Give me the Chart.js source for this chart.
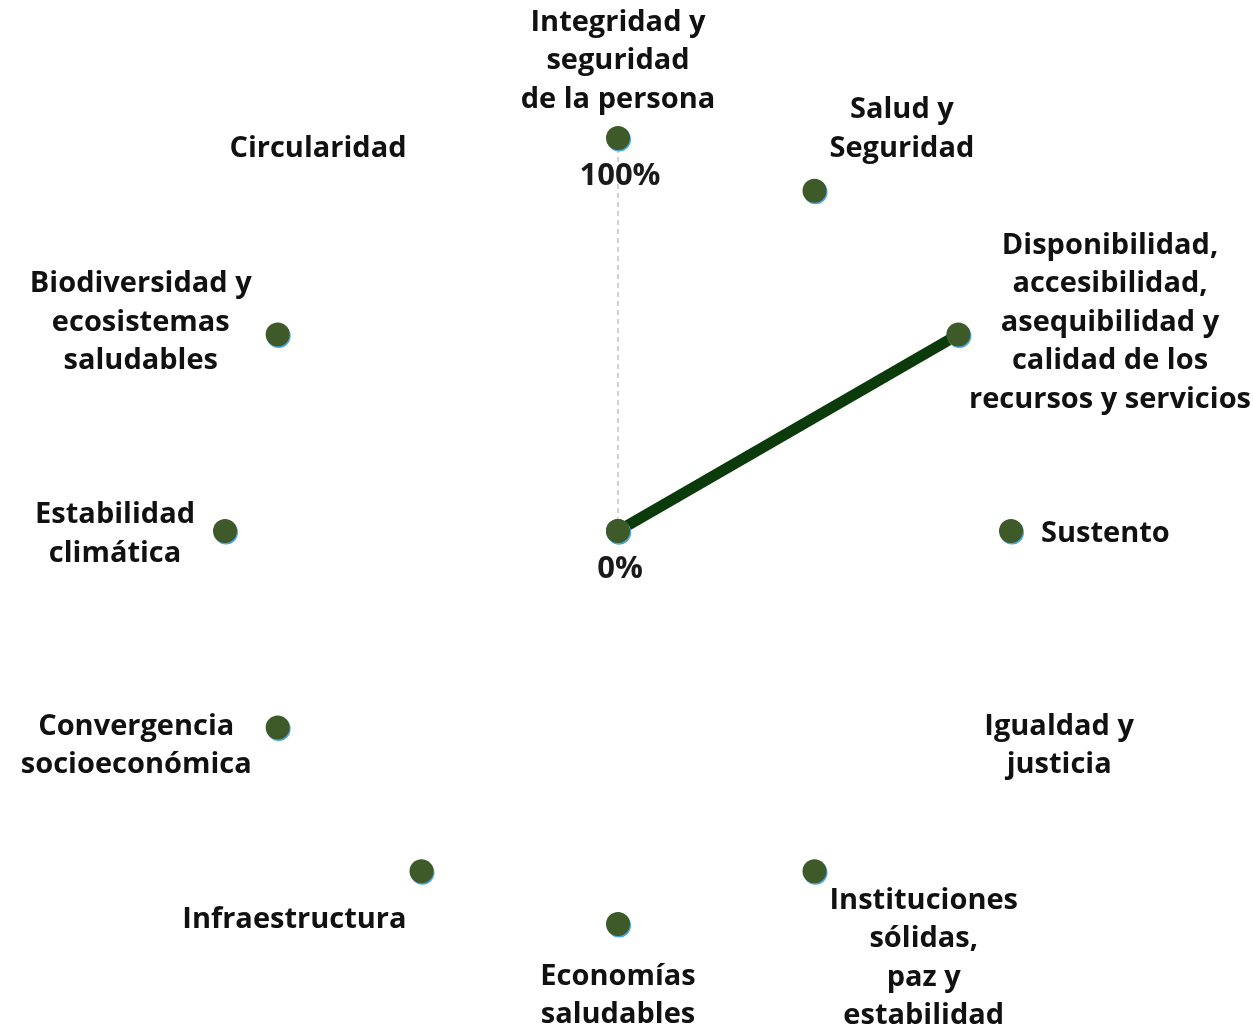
<!DOCTYPE html>
<html>
<head>
<meta charset="utf-8">
<script src="https://cdn.jsdelivr.net/npm/chart.js@4"></script>
<style>
  html, body { margin: 0; padding: 0; background: #ffffff; }
  #wrap { width: 1253px; height: 1032px; position: relative; }
</style>
</head>
<body>
<div id="wrap"><canvas id="c"></canvas></div>
<script>
// ---- data ----
const categories = [
  ['Integridad y', 'seguridad', 'de la persona'],
  ['Salud y', 'Seguridad'],
  ['Disponibilidad,', 'accesibilidad,', 'asequibilidad y', 'calidad de los', 'recursos y servicios'],
  ['Sustento'],
  ['Igualdad y', 'justicia'],
  ['Instituciones', 'sólidas,', 'paz y', 'estabilidad'],
  ['Economías', 'saludables'],
  ['Infraestructura'],
  ['Convergencia', 'socioeconómica'],
  ['Estabilidad', 'climática'],
  ['Biodiversidad y', 'ecosistemas', 'saludables'],
  ['Circularidad']
];
const pointValues = [100, 100, 100, 100, 0, 100, 100, 100, 100, 100, 100, 0];
const lineValues  = [null, null, 100, 0, null, null, null, null, null, null, null, null];
const tickValues  = [0, 100];
const tickLabels  = ['0%', '100%'];

// ---- styles ----
const FONT_FAMILY = '"Open Sans", "Noto Sans", sans-serif';
const FONT_SIZE = 29;
const TICK_FONT_SIZE = 31;
const LINE_H = 38.5;
const LABEL_PAD = 30;
const TEXT_SHIFT = 3;

const shadowPlugin = {
  id: 'pointShadow',
  beforeDatasetDraw(chart, args) {
    if (args.index === 0) {
      const ctx = chart.ctx;
      ctx.save();
      ctx.shadowColor = '#4ea3e6';
      ctx.shadowOffsetX = 1;
      ctx.shadowOffsetY = 1.5;
      ctx.shadowBlur = 0;
    }
  },
  afterDatasetDraw(chart, args) {
    if (args.index === 0) chart.ctx.restore();
  }
};

const labelPlugin = {
  id: 'blockLabels',
  afterDraw(chart) {
    const scale = chart.scales.r;
    const ctx = chart.ctx;
    ctx.save();
    ctx.font = 'bold ' + FONT_SIZE + 'px ' + FONT_FAMILY;
    ctx.fillStyle = '#111111';
    ctx.textAlign = 'center';
    ctx.textBaseline = 'middle';
    const n = categories.length;
    categories.forEach((lines, i) => {
      const w = Math.max(...lines.map(l => ctx.measureText(l).width));
      const h = lines.length * LINE_H;
      const p = scale.getPointPosition(i, scale.drawingArea + LABEL_PAD);
      const a = i * 2 * Math.PI / n;
      const s = Math.sin(a), c = Math.cos(a);
      let cx = p.x, cy = p.y;
      if (Math.abs(s) < 0.01) {
        cy = p.y - Math.sign(c) * h / 2;
      } else if (Math.abs(s) > 0.8) {
        cx = p.x + Math.sign(s) * w / 2;
      } else {
        cx = p.x + Math.sign(s) * w / 2;
        cy = p.y - Math.sign(c) * h / 2;
      }
      cx = Math.min(Math.max(cx, w / 2 + 2), chart.width - w / 2 - 2);
      cy = Math.min(Math.max(cy, h / 2), chart.height - h / 2);
      lines.forEach((l, k) => ctx.fillText(l, cx, cy - h / 2 + LINE_H * (k + 0.5) + TEXT_SHIFT));
    });
    // tick labels
    ctx.font = 'bold ' + TICK_FONT_SIZE + 'px ' + FONT_FAMILY;
    ctx.fillStyle = '#1a1a1a';
    tickValues.forEach((v, k) => {
      const p = scale.getPointPosition(0, scale.getDistanceFromCenterForValue(v));
      ctx.fillText(tickLabels[k], p.x + 2, p.y + 35 + TEXT_SHIFT);
    });
    ctx.restore();
  }
};

new Chart(document.getElementById('c'), {
  type: 'radar',
  data: {
    labels: categories,
    datasets: [
      {
        data: pointValues,
        showLine: false,
        pointRadius: 12,
        pointHoverRadius: 12,
        pointBackgroundColor: '#3d5a28',
        pointBorderWidth: 0,
        borderWidth: 0,
        backgroundColor: 'rgba(0,0,0,0)',
        order: 0
      },
      {
        data: lineValues,
        borderColor: '#0b3a0b',
        borderWidth: 11,
        pointRadius: 0,
        fill: false,
        spanGaps: false,
        backgroundColor: 'rgba(0,0,0,0)',
        order: 1
      }
    ]
  },
  options: {
    responsive: true,
    maintainAspectRatio: false,
    animation: false,
    layout: { padding: { left: 100, right: 117, top: 138, bottom: 108 } },
    plugins: { legend: { display: false }, tooltip: { enabled: false } },
    scales: {
      r: {
        min: 0,
        max: 100,
        ticks: { display: false, stepSize: 100 },
        grid: { display: false },
        pointLabels: { display: false },
        angleLines: {
          display: true,
          color: (ctx) => ctx.index === 0 ? '#a6a6a6' : 'rgba(0,0,0,0)',
          lineWidth: 1,
          borderDash: [5, 4]
        }
      }
    }
  },
  plugins: [shadowPlugin, labelPlugin]
});
</script>
</body>
</html>
